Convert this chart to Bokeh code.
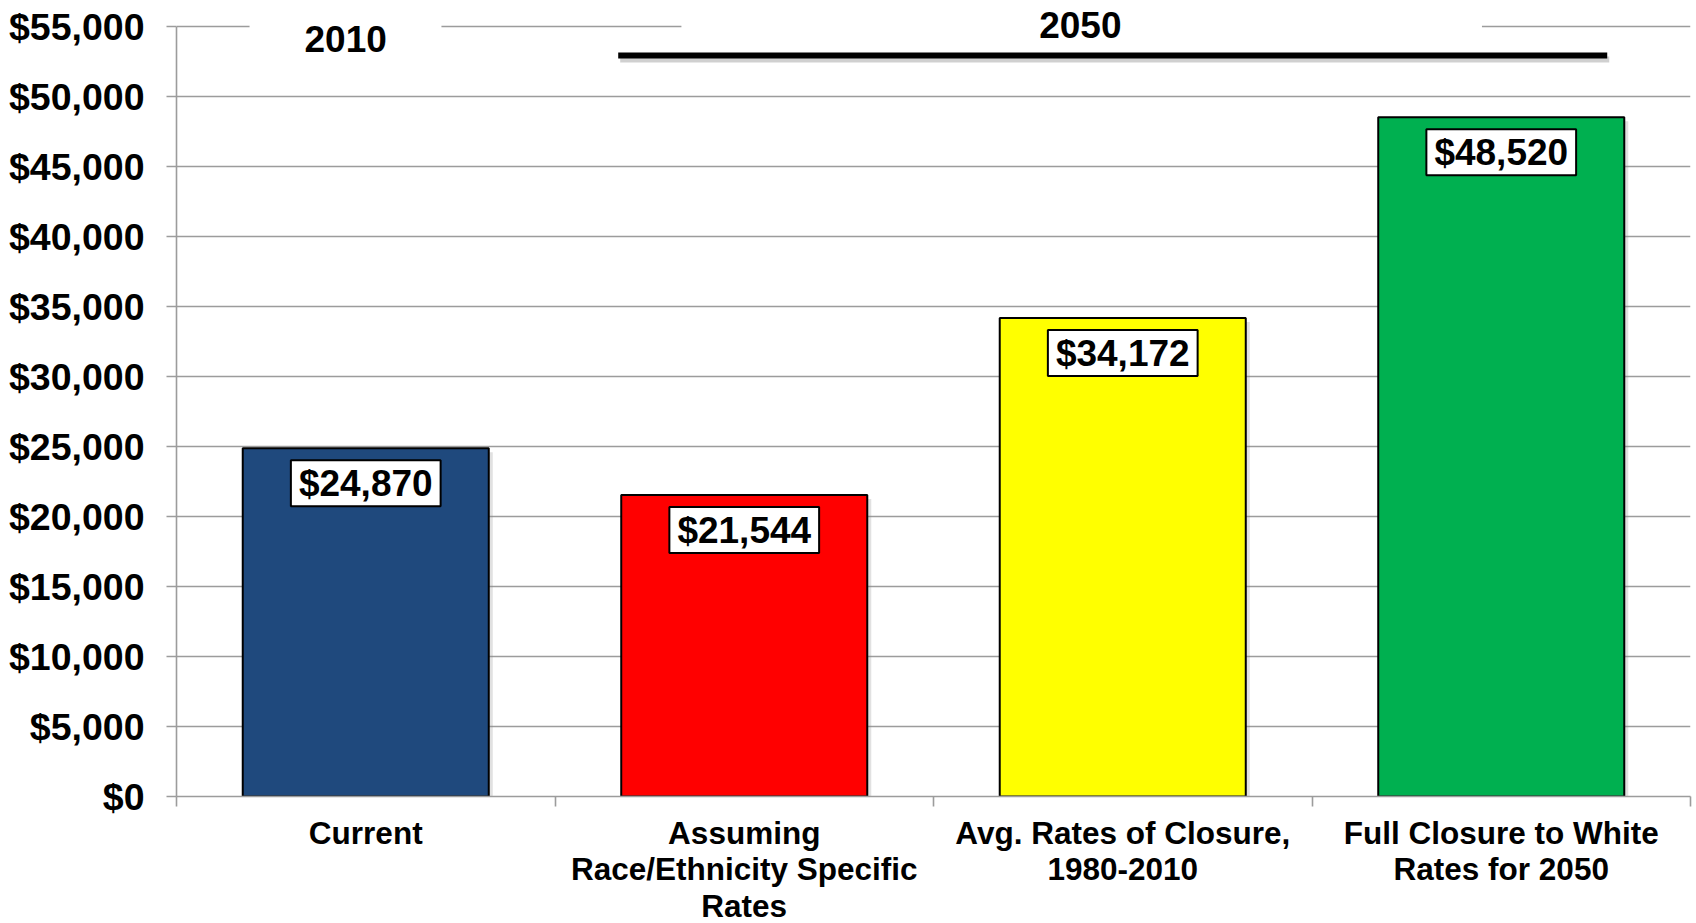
from bokeh.plotting import figure
from bokeh.models import (Range1d, FixedTicker, NumeralTickFormatter,
                          Label, ColumnDataSource)
from bokeh.core.properties import value
from bokeh.embed import file_html
from bokeh.resources import INLINE

# ---- data ----
categories = [
    "Current",
    "Assuming\nRace/Ethnicity Specific\nRates",
    "Avg. Rates of Closure,\n1980-2010",
    "Full Closure to White\nRates for 2050",
]
values = [24870, 21544, 34172, 48520]
colors = ["#1F497D", "#FF0000", "#FFFF00", "#00B050"]
y_ticks = [0, 5000, 10000, 15000, 20000, 25000, 30000, 35000, 40000, 45000, 50000, 55000]
period_labels = ["2010", "2050"]

# ---- layout constants ----
FONT = "Liberation Sans"
Y_MAX = 55000
AXIS_H = 770                    # pixel height of the 0..55,000 axis
HEAD_PX = 26                    # room above the axis for the period headers
FRAME_W, FRAME_H = 1514, AXIS_H + HEAD_PX
PX_Y = Y_MAX / AXIS_H           # data units per pixel (y)
PX_X = len(categories) / FRAME_W  # data units per pixel (x)
Y_TOP = Y_MAX + HEAD_PX * PX_Y

x_pos = [i + 0.5 for i in range(len(categories))]
value_text = ["${:,}".format(v) for v in values]

src = ColumnDataSource(dict(x=x_pos, top=values, color=colors, label=value_text,
                            xs=[v + 4 * PX_X for v in x_pos],
                            ts=[v - 4 * PX_Y for v in values]))

p = figure(frame_width=FRAME_W, frame_height=FRAME_H,
           x_range=Range1d(0, len(categories)), y_range=Range1d(0, Y_TOP),
           output_backend="svg", toolbar_location=None,
           min_border_left=176, min_border_top=0, min_border_right=6,
           min_border_bottom=100)
p.outline_line_color = None
p.background_fill_color = "white"
p.border_fill_color = "white"

# grid
p.xgrid.visible = False
p.ygrid.ticker = FixedTicker(ticks=y_ticks)
p.ygrid.grid_line_color = "#9C9C9C"
p.ygrid.grid_line_width = 1.6

# gaps in the top gridline behind the period headers
p.quad(left=[0.193, 1.334], right=[0.70, 3.449], bottom=[Y_MAX - 4 * PX_Y] * 2,
       top=[Y_MAX + 4 * PX_Y] * 2, fill_color="white", line_color=None)

# bar shadows + bars
p.vbar(x="xs", top="ts", width=0.65, bottom=0, source=src, fill_color="#888888",
       fill_alpha=0.25, line_color=None)
p.vbar(x="x", top="top", width=0.65, bottom=0, source=src, fill_color="color",
       line_color="black", line_width=2)

# 2050 bracket line with shadow
line_x = [1.167, 3.78]
line_y = 52937
p.line(x=[line_x[0] + 2 * PX_X, line_x[1] + 2 * PX_X], y=[line_y - 4 * PX_Y] * 2,
       line_color="#777777", line_alpha=0.35, line_width=6)
p.line(x=line_x, y=[line_y] * 2, line_color="black", line_width=6)

# value labels
p.text(x="x", y="top", text="label", source=src, y_offset=35,
       text_align="center", text_baseline="middle",
       text_font=value(FONT), text_font_style="bold", text_font_size="37px",
       text_color="black", background_fill_color="white",
       border_line_color="black", border_line_width=2,
       padding=dict(left=8, right=8, top=3, bottom=2))

# period headers
p.add_layout(Label(x=0.447, y=Y_MAX, y_offset=-12, text=period_labels[0],
                   text_align="center", text_baseline="middle", text_font=FONT,
                   text_font_style="bold", text_font_size="37px", text_color="black"))
p.add_layout(Label(x=2.388, y=Y_MAX, y_offset=2, text=period_labels[1],
                   text_align="center", text_baseline="middle", text_font=FONT,
                   text_font_style="bold", text_font_size="37px", text_color="black"))

# y axis
p.yaxis.bounds = (0, Y_MAX)
p.yaxis.ticker = FixedTicker(ticks=y_ticks)
p.yaxis.formatter = NumeralTickFormatter(format="$0,0")
p.yaxis.major_label_text_font = FONT
p.yaxis.major_label_text_font_style = "bold"
p.yaxis.major_label_text_font_size = "37.5px"
p.yaxis.major_label_text_color = "black"
p.yaxis.major_label_standoff = 22
p.yaxis.axis_line_color = "#9C9C9C"
p.yaxis.axis_line_width = 1.6
p.yaxis.major_tick_line_color = "#9C9C9C"
p.yaxis.major_tick_line_width = 1.6
p.yaxis.major_tick_out = 10
p.yaxis.major_tick_in = 0
p.yaxis.minor_tick_line_color = None

# x axis
p.xaxis.ticker = FixedTicker(ticks=x_pos, minor_ticks=list(range(len(categories) + 1)))
p.xaxis.major_label_overrides = {xv: c for xv, c in zip(x_pos, categories)}
p.xaxis.major_label_text_font = FONT
p.xaxis.major_label_text_font_style = "bold"
p.xaxis.major_label_text_font_size = "31.5px"
p.xaxis.major_label_text_line_height = 1.02
p.xaxis.major_label_text_color = "black"
p.xaxis.major_label_standoff = 8
p.xaxis.axis_line_color = "#9C9C9C"
p.xaxis.axis_line_width = 1.6
p.xaxis.major_tick_line_color = None
p.xaxis.major_tick_out = 0
p.xaxis.major_tick_in = 0
p.xaxis.minor_tick_line_color = "#9C9C9C"
p.xaxis.minor_tick_line_width = 1.6
p.xaxis.minor_tick_out = 10
p.xaxis.minor_tick_in = 0

open("out.html", "w").write(file_html(p, INLINE))
